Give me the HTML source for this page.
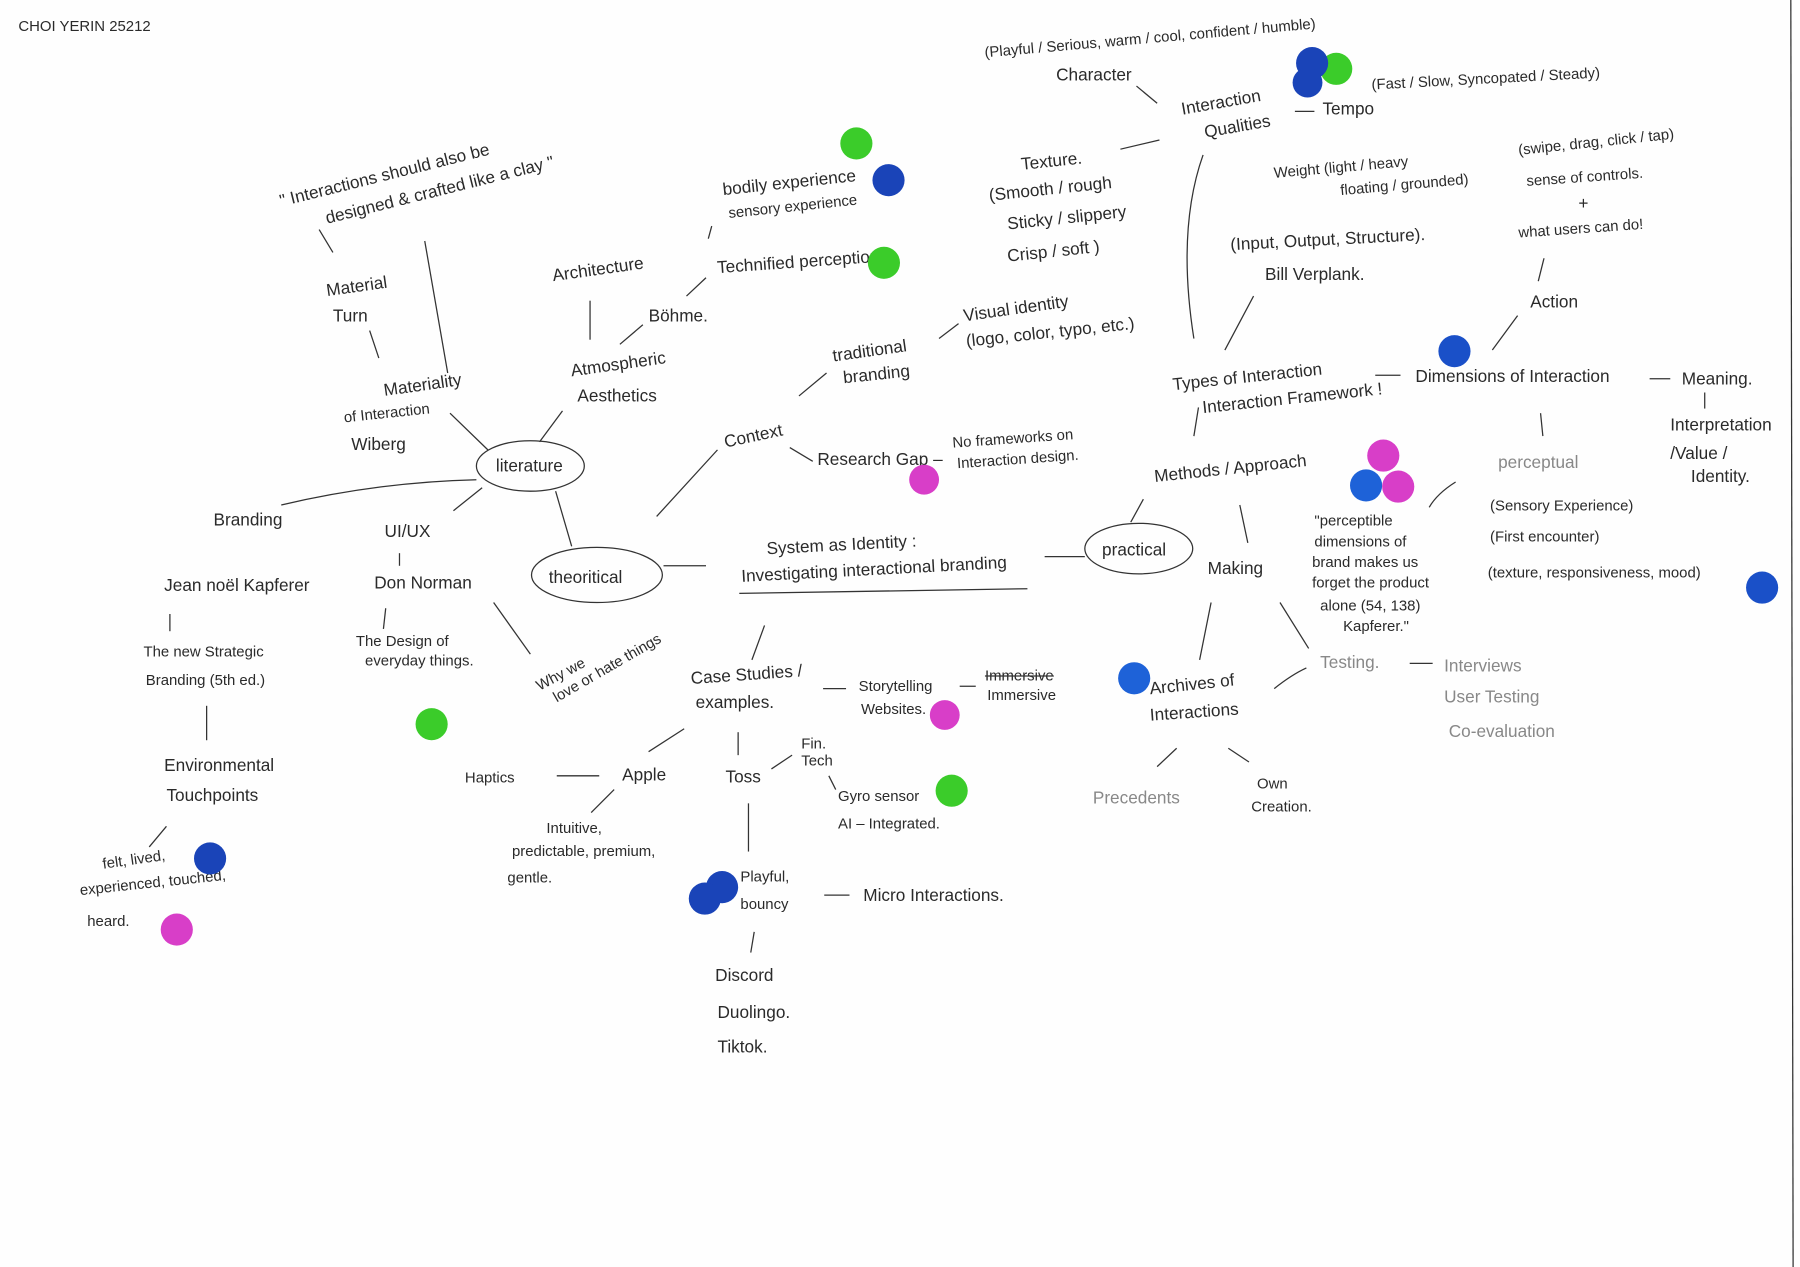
<!DOCTYPE html>
<html><head><meta charset="utf-8"><style>
html,body{margin:0;padding:0;background:#fff;}
svg{display:block;}
text{font-family:"Liberation Sans",sans-serif;fill:#2a2a2a;font-size:15px;}
.s{font-size:13px;}
.l{fill:#888;}
line,path,ellipse.n{stroke:#333;stroke-width:1.1;fill:none;}
</style></head><body>
<svg width="1800" height="1267" viewBox="0 0 1568 1104" preserveAspectRatio="none">
<rect width="1568" height="1104" fill="#fefefe"/>
<line x1="1560" y1="0" x2="1562" y2="1104" stroke="#ccc" stroke-width="2"/>
<text x="16" y="27" class="s">CHOI YERIN  25212</text>

<text x="245" y="180" transform="rotate(-14 245 180)">" Interactions should also be</text>
<text x="285" y="195" transform="rotate(-14 285 195)">designed &amp; crafted like a clay "</text>
<line x1="278" y1="200" x2="290" y2="220"/><line x1="370" y1="210" x2="390" y2="325"/>
<text x="285" y="258" transform="rotate(-8 285 258)">Material</text><text x="290" y="280">Turn</text>
<line x1="322" y1="288" x2="330" y2="312"/>
<text x="335" y="345" transform="rotate(-8 335 345)">Materiality</text>
<text x="300" y="368" class="s" transform="rotate(-6 300 368)">of Interaction</text>
<text x="306" y="392">Wiberg</text>
<line x1="392" y1="360" x2="425" y2="392"/>
<ellipse class="n" cx="462" cy="406" rx="47" ry="22"/><text x="432" y="411">literature</text>
<text x="482" y="245" transform="rotate(-8 482 245)">Architecture</text>
<line x1="514" y1="262" x2="514" y2="296"/>
<text x="498" y="328" transform="rotate(-8 498 328)">Atmospheric</text><text x="503" y="350">Aesthetics</text>
<line x1="490" y1="358" x2="470" y2="385"/>
<text x="565" y="280">Böhme.</text><line x1="540" y1="300" x2="560" y2="283"/><line x1="598" y1="258" x2="615" y2="242"/>
<text x="625" y="238" transform="rotate(-4 625 238)">Technified perception</text>
<text x="630" y="170" transform="rotate(-6 630 170)">bodily experience</text>
<text x="635" y="190" class="s" transform="rotate(-6 635 190)">sensory experience</text>
<line x1="620" y1="197" x2="617" y2="208"/>
<text x="186" y="458">Branding</text>
<path d="M245 440 Q330 420 415 418"/>
<text x="335" y="468">UI/UX</text><line x1="395" y1="445" x2="420" y2="425"/>
<line x1="484" y1="428" x2="498" y2="476"/>
<ellipse class="n" cx="520" cy="501" rx="57" ry="24"/><text x="478" y="508">theoritical</text>
<line x1="578" y1="493" x2="615" y2="493"/>
<line x1="572" y1="450" x2="625" y2="392"/>
<text x="632" y="390" transform="rotate(-12 632 390)">Context</text>
<line x1="696" y1="345" x2="720" y2="325"/><line x1="688" y1="390" x2="708" y2="402"/>
<text x="726" y="315" transform="rotate(-8 726 315)">traditional</text><text x="735" y="334" transform="rotate(-6 735 334)">branding</text>
<line x1="818" y1="295" x2="835" y2="282"/>
<text x="840" y="280" transform="rotate(-8 840 280)">Visual identity</text>
<text x="842" y="302" transform="rotate(-6 842 302)">(logo, color, typo, etc.)</text>
<text x="712" y="405">Research Gap –</text>
<text x="830" y="390" class="s" transform="rotate(-4 830 390)">No frameworks on</text>
<text x="834" y="408" class="s" transform="rotate(-4 834 408)">Interaction design.</text>
<text x="668" y="483" font-size="16" transform="rotate(-3 668 483)">System as Identity :</text>
<text x="646" y="507" transform="rotate(-3 646 507)">Investigating interactional branding</text>
<line x1="644" y1="517" x2="895" y2="513"/>
<line x1="910" y1="485" x2="945" y2="485"/>
<ellipse class="n" cx="992" cy="478" rx="47" ry="22"/><text x="960" y="484">practical</text>
<line x1="985" y1="455" x2="996" y2="435"/>
<text x="1006" y="420" transform="rotate(-6 1006 420)">Methods / Approach</text>
<line x1="1080" y1="440" x2="1087" y2="473"/>
<text x="1052" y="500">Making</text>
<line x1="1040" y1="380" x2="1044" y2="355"/>
<text x="1022" y="340" transform="rotate(-6 1022 340)">Types of Interaction</text>
<text x="1048" y="360" transform="rotate(-6 1048 360)">Interaction Framework !</text>
<path d="M1040 295 Q1025 200 1048 135"/>
<line x1="1067" y1="305" x2="1092" y2="258"/>
<text x="1072" y="218" transform="rotate(-3 1072 218)">(Input, Output, Structure).</text>
<text x="1102" y="244">Bill Verplank.</text>
<line x1="1198" y1="327" x2="1220" y2="327"/>
<text x="1233" y="333">Dimensions of Interaction</text>
<line x1="1437" y1="330" x2="1455" y2="330"/><text x="1465" y="335">Meaning.</text>
<line x1="1485" y1="342" x2="1485" y2="356"/>
<text x="1455" y="375">Interpretation</text><text x="1455" y="400">/Value /</text><text x="1473" y="420">Identity.</text>
<line x1="1300" y1="305" x2="1322" y2="275"/><text x="1333" y="268">Action</text>
<line x1="1340" y1="245" x2="1345" y2="225"/>
<text x="1323" y="135" class="s" transform="rotate(-6 1323 135)">(swipe, drag, click / tap)</text>
<text x="1330" y="162" class="s" transform="rotate(-4 1330 162)">sense of controls.</text>
<text x="1375" y="182">+</text>
<text x="1323" y="207" class="s" transform="rotate(-4 1323 207)">what users can do!</text>
<line x1="1342" y1="360" x2="1344" y2="380"/>
<text x="1305" y="408" class="l">perceptual</text>
<text x="1298" y="445" class="s">(Sensory Experience)</text>
<text x="1298" y="472" class="s">(First encounter)</text>
<text x="1296" y="503" class="s">(texture, responsiveness, mood)</text>
<path d="M1268 420 Q1252 430 1245 442"/>
<text x="1145" y="458" class="s">"perceptible</text><text x="1145" y="476" class="s">dimensions of</text>
<text x="1143" y="494" class="s">brand makes us</text><text x="1143" y="512" class="s">forget the product</text>
<text x="1150" y="532" class="s">alone (54, 138)</text><text x="1170" y="550" class="s">Kapferer."</text>
<text x="1030" y="100" transform="rotate(-10 1030 100)">Interaction</text>
<text x="1050" y="120" transform="rotate(-10 1050 120)">Qualities</text>
<line x1="1128" y1="97" x2="1145" y2="97"/><text x="1152" y="100">Tempo</text>
<text x="1195" y="78" class="s" transform="rotate(-3 1195 78)">(Fast / Slow, Syncopated / Steady)</text>
<text x="858" y="50" class="s" transform="rotate(-5 858 50)">(Playful / Serious, warm / cool, confident / humble)</text>
<text x="920" y="70">Character</text><line x1="990" y1="75" x2="1008" y2="90"/>
<line x1="976" y1="130" x2="1010" y2="122"/>
<text x="890" y="148" transform="rotate(-6 890 148)">Texture.</text>
<text x="862" y="175" transform="rotate(-6 862 175)">(Smooth / rough</text>
<text x="878" y="200" transform="rotate(-6 878 200)">Sticky / slippery</text>
<text x="878" y="228" transform="rotate(-6 878 228)">Crisp / soft )</text>
<text x="1110" y="155" class="s" transform="rotate(-5 1110 155)">Weight (light / heavy</text>
<text x="1168" y="170" class="s" transform="rotate(-5 1168 170)">floating / grounded)</text>
<text x="143" y="515">Jean noël Kapferer</text>
<text x="125" y="572" class="s">The new Strategic</text><text x="127" y="597" class="s">Branding (5th ed.)</text>
<line x1="148" y1="535" x2="148" y2="550"/><line x1="180" y1="615" x2="180" y2="645"/>
<text x="143" y="672">Environmental</text><text x="145" y="698">Touchpoints</text>
<line x1="145" y1="720" x2="130" y2="738"/>
<text x="90" y="757" class="s" transform="rotate(-8 90 757)">felt, lived,</text>
<text x="70" y="780" class="s" transform="rotate(-6 70 780)">experienced, touched,</text>
<text x="76" y="807" class="s">heard.</text>
<text x="326" y="513">Don Norman</text><line x1="348" y1="482" x2="348" y2="493"/>
<line x1="336" y1="530" x2="334" y2="548"/>
<text x="310" y="563" class="s">The Design of</text><text x="318" y="580" class="s">everyday things.</text>
<line x1="430" y1="525" x2="462" y2="570"/>
<text x="470" y="602" class="s" transform="rotate(-28 470 602)">Why we</text>
<text x="478" y="600" class="s" transform="rotate(-30 478 600) translate(0 14)">love or hate things</text>
<line x1="666" y1="545" x2="655" y2="575"/>
<text x="602" y="596" transform="rotate(-4 602 596)">Case Studies /</text><text x="606" y="617">examples.</text>
<line x1="717" y1="600" x2="737" y2="600"/>
<text x="748" y="602" class="s">Storytelling</text><text x="750" y="622" class="s">Websites.</text>
<line x1="836" y1="598" x2="850" y2="598"/>
<text x="858" y="593" class="s">Immersive</text><line x1="858" y1="589" x2="918" y2="589"/>
<text x="860" y="610" class="s">Immersive</text>
<line x1="596" y1="635" x2="565" y2="655"/>
<text x="542" y="680">Apple</text><line x1="485" y1="676" x2="522" y2="676"/>
<text x="405" y="682" class="s">Haptics</text>
<line x1="535" y1="688" x2="515" y2="708"/>
<text x="476" y="726" class="s">Intuitive,</text>
<text x="446" y="746" class="s">predictable, premium,</text><text x="442" y="769" class="s">gentle.</text>
<line x1="643" y1="638" x2="643" y2="658"/><text x="632" y="682">Toss</text>
<line x1="672" y1="670" x2="690" y2="658"/>
<text x="698" y="652" class="s">Fin.</text><text x="698" y="667" class="s">Tech</text>
<line x1="722" y1="676" x2="728" y2="688"/>
<text x="730" y="698" class="s">Gyro sensor</text><text x="730" y="722" class="s">AI – Integrated.</text>
<line x1="652" y1="700" x2="652" y2="742"/>
<text x="645" y="768" class="s">Playful,</text><text x="645" y="792" class="s">bouncy</text>
<line x1="718" y1="780" x2="740" y2="780"/><text x="752" y="785">Micro Interactions.</text>
<line x1="657" y1="812" x2="654" y2="830"/>
<text x="623" y="855">Discord</text><text x="625" y="887">Duolingo.</text><text x="625" y="917">Tiktok.</text>
<line x1="1055" y1="525" x2="1045" y2="575"/><line x1="1115" y1="525" x2="1140" y2="565"/>
<text x="1002" y="605" transform="rotate(-6 1002 605)">Archives of</text>
<text x="1002" y="628" transform="rotate(-4 1002 628)">Interactions</text>
<path d="M1110 600 Q1125 588 1138 582"/>
<text x="1150" y="582" class="l">Testing.</text>
<line x1="1228" y1="578" x2="1248" y2="578"/>
<text x="1258" y="585" class="l">Interviews</text><text x="1258" y="612" class="l">User Testing</text>
<text x="1262" y="642" class="l">Co-evaluation</text>
<line x1="1025" y1="652" x2="1008" y2="668"/><line x1="1070" y1="652" x2="1088" y2="664"/>
<text x="952" y="700" class="l">Precedents</text>
<text x="1095" y="687" class="s">Own</text><text x="1090" y="707" class="s">Creation.</text>
<g>
<circle cx="746" cy="125" r="14" fill="#3bcc2a"/>
<circle cx="774" cy="157" r="14" fill="#1a44b8"/>
<circle cx="770" cy="229" r="14" fill="#3bcc2a"/>
<circle cx="1164" cy="60" r="14" fill="#3bcc2a"/>
<circle cx="1143" cy="55" r="14" fill="#1a44b8"/>
<circle cx="1139" cy="72" r="13" fill="#1a44b8"/>
<circle cx="1267" cy="306" r="14" fill="#1a50c8"/>
<circle cx="1205" cy="397" r="14" fill="#d83ec8"/>
<circle cx="1190" cy="423" r="14" fill="#1e62d8"/>
<circle cx="1218" cy="424" r="14" fill="#d83ec8"/>
<circle cx="1535" cy="512" r="14" fill="#1a50c8"/>
<circle cx="805" cy="418" r="13" fill="#d83ec8"/>
<circle cx="988" cy="591" r="14" fill="#1e62d8"/>
<circle cx="823" cy="623" r="13" fill="#d83ec8"/>
<circle cx="829" cy="689" r="14" fill="#3bcc2a"/>
<circle cx="376" cy="631" r="14" fill="#3bcc2a"/>
<circle cx="183" cy="748" r="14" fill="#1a44b8"/>
<circle cx="154" cy="810" r="14" fill="#d83ec8"/>
<circle cx="629" cy="773" r="14" fill="#1a44b8"/>
<circle cx="614" cy="783" r="14" fill="#1a44b8"/>
</g>
</svg>
</body></html>
